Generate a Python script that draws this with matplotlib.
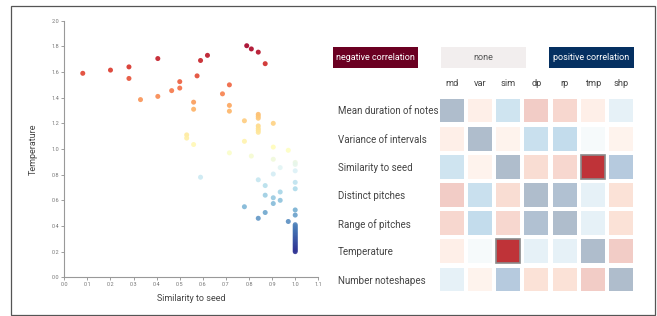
import numpy as np
import matplotlib
matplotlib.use("Agg")
import matplotlib.pyplot as plt
from matplotlib.patches import Rectangle
from matplotlib.colors import Normalize

plt.rcParams["font.family"] = ["Roboto", "DejaVu Sans"]

# scatter: similarity to seed vs temperature
similarity = [0.08, 0.20, 0.28, 0.28, 0.405, 0.59, 0.62, 0.79, 0.81, 0.84, 0.87,
              0.575, 0.50, 0.50, 0.465, 0.405, 0.33, 0.715, 0.685, 0.715, 0.715,
              0.56, 0.56, 0.78, 0.84, 0.84, 0.84, 0.84, 0.84, 0.84, 0.84, 0.905,
              0.53, 0.53, 0.56, 0.78, 0.715, 0.81, 0.905, 0.97, 0.905, 1.0, 1.0,
              0.935, 1.0, 0.905, 0.59, 0.84, 1.0, 0.87, 1.0, 0.935, 0.87, 0.905,
              0.935, 0.905, 0.78, 1.0, 1.0, 0.87, 0.84, 0.97,
              1.0, 1.0, 1.0, 1.0, 1.0, 1.0, 1.0, 1.0, 1.0, 1.0, 1.0,
              1.0, 1.0, 1.0, 1.0, 1.0, 1.0, 1.0, 1.0, 1.0, 1.0, 1.0]
temperature = [1.59, 1.615, 1.64, 1.55, 1.705, 1.69, 1.73, 1.805, 1.78, 1.755, 1.665,
               1.57, 1.525, 1.475, 1.455, 1.41, 1.385, 1.50, 1.43, 1.34, 1.295,
               1.365, 1.31, 1.22, 1.27, 1.255, 1.24, 1.18, 1.16, 1.145, 1.13, 1.20,
               1.11, 1.085, 1.035, 1.06, 0.97, 0.945, 1.015, 0.99, 0.92, 0.895, 0.88,
               0.855, 0.83, 0.805, 0.78, 0.76, 0.74, 0.715, 0.69, 0.665, 0.64, 0.62,
               0.60, 0.575, 0.55, 0.525, 0.485, 0.505, 0.46, 0.435,
               0.41, 0.40, 0.39, 0.38, 0.37, 0.36, 0.35, 0.34, 0.33, 0.32, 0.31,
               0.30, 0.29, 0.28, 0.27, 0.26, 0.25, 0.24, 0.23, 0.22, 0.21, 0.20]

# correlation matrix
col_labels = ["md", "var", "sim", "dp", "rp", "tmp", "shp"]
row_labels = ["Mean duration of notes", "Variance of intervals", "Similarity to seed",
              "Distinct pitches", "Range of pitches", "Temperature", "Number noteshapes"]
corr = [
    [1.00, -0.25, 0.50, -0.60, -0.50, -0.25, 0.30],
    [-0.25, 1.00, -0.20, 0.55, 0.60, 0.10, -0.20],
    [0.50, -0.20, 1.00, -0.45, -0.50, -0.72, 0.85],
    [-0.60, 0.55, -0.45, 1.00, 0.95, 0.30, -0.40],
    [-0.50, 0.60, -0.50, 0.95, 1.00, 0.30, -0.40],
    [-0.25, 0.10, -0.72, 0.30, 0.30, 1.00, -0.60],
    [0.30, -0.20, 0.85, -0.40, -0.40, -0.60, 1.00],
]
highlight = [(2, 5), (5, 2)]
legend_labels = ["negative correlation", "none", "positive correlation"]

W, H = 657, 316
fig = plt.figure(figsize=(W / 100, H / 100), dpi=100)

def fbox(x0, y0, x1, y1):
    # pixel box (top-left origin) -> figure fraction rect
    return [x0 / W, 1 - y1 / H, (x1 - x0) / W, (y1 - y0) / H]

# outer frame
fig.patches.append(Rectangle((11 / W, 1 - 314.5 / H), 644 / W, 308.5 / H,
                             transform=fig.transFigure, fill=False,
                             edgecolor="#555555", lw=0.9))

# ---- scatter
ax = fig.add_axes(fbox(64.3, 20.7, 318.3, 277.3))
norm = Normalize(0.2, 1.8)
ax.scatter(similarity, temperature, c=temperature, cmap="RdYlBu_r", norm=norm,
           s=13, linewidths=0, alpha=0.9, zorder=3)
ax.set_xlim(0, 1.1)
ax.set_ylim(0, 2.0)
ax.set_xticks(np.arange(0, 1.11, 0.1))
ax.set_yticks(np.arange(0, 2.01, 0.2))
ax.xaxis.set_major_formatter(matplotlib.ticker.FormatStrFormatter("%.1f"))
ax.yaxis.set_major_formatter(matplotlib.ticker.FormatStrFormatter("%.1f"))
for s in ["top", "right"]:
    ax.spines[s].set_visible(False)
for s in ["left", "bottom"]:
    ax.spines[s].set_color("#999999")
    ax.spines[s].set_linewidth(0.8)
ax.tick_params(labelsize=4, colors="#777777", length=2, width=0.5, pad=1.5)
ax.set_xlabel("Similarity to seed", fontsize=6.5, color="#444444", labelpad=5)
ax.set_ylabel("Temperature", fontsize=6.5, color="#444444", labelpad=10)

# ---- heatmap
hx = fig.add_axes(fbox(437.6, 96.4, 635.1, 293.6))
hx.set_xlim(-0.5, 6.5)
hx.set_ylim(6.5, -0.5)
cmap = plt.get_cmap("RdBu")
cs = 0.85
for i, row in enumerate(corr):
    for j, v in enumerate(row):
        rgb = np.array(cmap((v + 1) / 2)[:3])
        if (i, j) in highlight:
            hx.add_patch(Rectangle((j - cs / 2, i - cs / 2), cs, cs, facecolor=rgb,
                                   edgecolor="#8a8a8a", lw=1.2, zorder=3))
        else:
            a = 0.32
            col = 1 - a * (1 - rgb)
            hx.add_patch(Rectangle((j - cs / 2, i - cs / 2), cs, cs, facecolor=col,
                                   edgecolor="none", zorder=2))
for s in hx.spines.values():
    s.set_visible(False)
hx.xaxis.tick_top()
hx.set_xticks(range(len(col_labels)))
hx.set_xticklabels(col_labels)
hx.set_yticks(range(len(row_labels)))
hx.set_yticklabels(row_labels, ha="left")
hx.tick_params(axis="x", length=0, pad=6, labelsize=6.7, labelcolor="#444444")
hx.tick_params(axis="y", length=0, pad=72, labelsize=7, labelcolor="#444444")

# ---- legend boxes
boxes = [(332.7, "#6b0022", "white"), (440.7, "#f2eeee", "#555555"), (548.7, "#053061", "white")]
for (x0, fc, tc), lab in zip(boxes, legend_labels):
    fig.patches.append(Rectangle((x0 / W, 1 - 68 / H), 85 / W, 20.7 / H,
                                 transform=fig.transFigure, facecolor=fc, edgecolor="none"))
    fig.text((x0 + 42.5) / W, 1 - 57.7 / H, lab, ha="center", va="center",
             fontsize=6.5, color=tc)

fig.savefig("out.png", dpi=100)
